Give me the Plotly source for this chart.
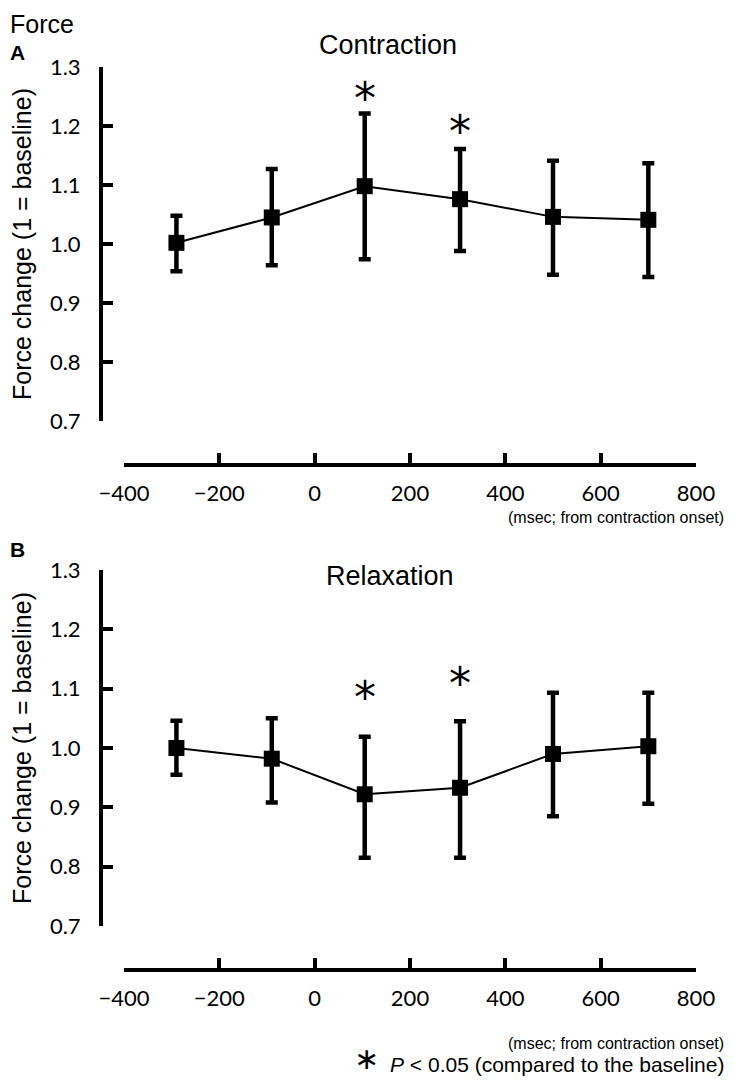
import plotly.graph_objects as go

# page is 734x1086; the html body keeps an 8px margin, so the figure is 16px smaller
PAGE_W, PAGE_H = 734, 1086
OFF = 8
W, H = PAGE_W - 2 * OFF, PAGE_H - 2 * OFF

# time points (msec from contraction onset)
time_ms = [-290, -90, 105, 305, 500, 700]

# panel A: contraction
contr_mean = [1.002, 1.045, 1.098, 1.076, 1.046, 1.041]
contr_upper = [1.048, 1.127, 1.221, 1.161, 1.141, 1.137]
contr_lower = [0.954, 0.964, 0.974, 0.988, 0.948, 0.944]
contr_star_y = [None, None, 1.261, 1.205, None, None]

# panel B: relaxation
relax_mean = [1.000, 0.982, 0.922, 0.933, 0.990, 1.003]
relax_upper = [1.046, 1.050, 1.019, 1.045, 1.093, 1.093]
relax_lower = [0.955, 0.908, 0.815, 0.815, 0.885, 0.906]
relax_star_y = [None, None, 1.098, 1.123, None, None]

x_ticks = [-400, -200, 0, 200, 400, 600, 800]
y_ticks = [0.7, 0.8, 0.9, 1.0, 1.1, 1.2, 1.3]


def px_x(x):
    # page pixel -> paper fraction
    return (x - OFF) / W


def px_y(y):
    return 1 - (y - OFF) / H


fig = go.Figure()


def add_panel(fig, mean, upper, lower, xa, ya):
    fig.add_trace(go.Scatter(
        x=time_ms, y=mean, mode="lines+markers",
        line=dict(color="black", width=2),
        marker=dict(symbol="square", size=16, color="black"),
        error_y=dict(type="data", symmetric=False,
                     array=[u - m for u, m in zip(upper, mean)],
                     arrayminus=[m - l for m, l in zip(mean, lower)],
                     color="black", thickness=4.5, width=6),
        xaxis=xa, yaxis=ya, showlegend=False, hoverinfo="skip"))


add_panel(fig, contr_mean, contr_upper, contr_lower, "x", "y")
add_panel(fig, relax_mean, relax_upper, relax_lower, "x2", "y2")

tick_font = dict(family="Lato", size=22, color="black")
common_x = dict(range=[-400, 800], tickvals=x_ticks, showline=True, linewidth=4,
                linecolor="black", ticks="inside", ticklen=10, tickwidth=4,
                tickcolor="black", showgrid=False, zeroline=False, automargin=False,
                tickfont=tick_font, ticklabelstandoff=8,
                domain=[px_x(124), px_x(696)], anchor="free")
common_y = dict(range=[0.7, 1.3], tickvals=y_ticks, tickformat=".1f", showline=True,
                linewidth=4, linecolor="black", ticks="inside", ticklen=10,
                tickwidth=4, tickcolor="black", showgrid=False, zeroline=False,
                automargin=False, tickfont=tick_font, ticklabelstandoff=14,
                anchor="free", position=px_x(101))

fig.update_layout(
    width=W, height=H,
    margin=dict(l=0, r=0, t=0, b=0, autoexpand=False),
    plot_bgcolor="white", paper_bgcolor="white",
    font=dict(family="Liberation Sans", color="black"),
    xaxis=dict(common_x, position=px_y(465)),
    yaxis=dict(common_y, domain=[px_y(421), px_y(67)]),
    xaxis2=dict(common_x, position=px_y(970)),
    yaxis2=dict(common_y, domain=[px_y(926), px_y(570)]),
)

ann = []
# significance stars
for ys, xr, yr in [(contr_star_y, "x", "y"), (relax_star_y, "x2", "y2")]:
    for xv, yv in zip(time_ms, ys):
        if yv is not None:
            ann.append(dict(x=xv, y=yv, xref=xr, yref=yr, text="*", showarrow=False,
                            yanchor="middle", yshift=-8,
                            font=dict(family="DejaVu Sans", size=44)))

ann += [
    dict(x=0, y=1, xref="paper", yref="paper", text="Force", showarrow=False,
         xanchor="left", yanchor="top", font=dict(size=25)),
    dict(x=0, y=px_y(52), xref="paper", yref="paper", text="<b>A</b>",
         showarrow=False, xanchor="left", yanchor="middle", font=dict(size=21)),
    dict(x=0, y=px_y(549), xref="paper", yref="paper", text="<b>B</b>",
         showarrow=False, xanchor="left", yanchor="middle", font=dict(size=21)),
    dict(x=px_x(388), y=px_y(45), xref="paper", yref="paper", text="Contraction",
         showarrow=False, xanchor="center", yanchor="middle", font=dict(size=27)),
    dict(x=px_x(390), y=px_y(576), xref="paper", yref="paper", text="Relaxation",
         showarrow=False, xanchor="center", yanchor="middle", font=dict(size=27)),
    dict(x=0, y=1.0, xref="paper", yref="y", text="Force change (1 = baseline)",
         textangle=-90, showarrow=False, xanchor="left", yanchor="middle",
         xshift=-2, font=dict(size=25)),
    dict(x=0, y=1.0, xref="paper", yref="y2", text="Force change (1 = baseline)",
         textangle=-90, showarrow=False, xanchor="left", yanchor="middle",
         xshift=-2, font=dict(size=25)),
    dict(x=1, y=px_y(518), xref="paper", yref="paper",
         text="(msec; from contraction onset)", showarrow=False, xanchor="right",
         yanchor="middle", font=dict(size=16)),
    dict(x=1, y=px_y(1043), xref="paper", yref="paper",
         text="(msec; from contraction onset)", showarrow=False, xanchor="right",
         yanchor="middle", font=dict(size=16)),
    dict(x=1, y=0, xref="paper", yref="paper",
         text="<i>P</i> < 0.05 (compared to the baseline)", showarrow=False,
         xanchor="right", yanchor="bottom", font=dict(size=21)),
    dict(x=px_x(366), y=0, xref="paper", yref="paper", text="\u2217",
         showarrow=False, xanchor="center", yanchor="bottom",
         font=dict(family="DejaVu Sans", size=30)),
]
fig.update_layout(annotations=ann)

fig.write_html("out.html")
